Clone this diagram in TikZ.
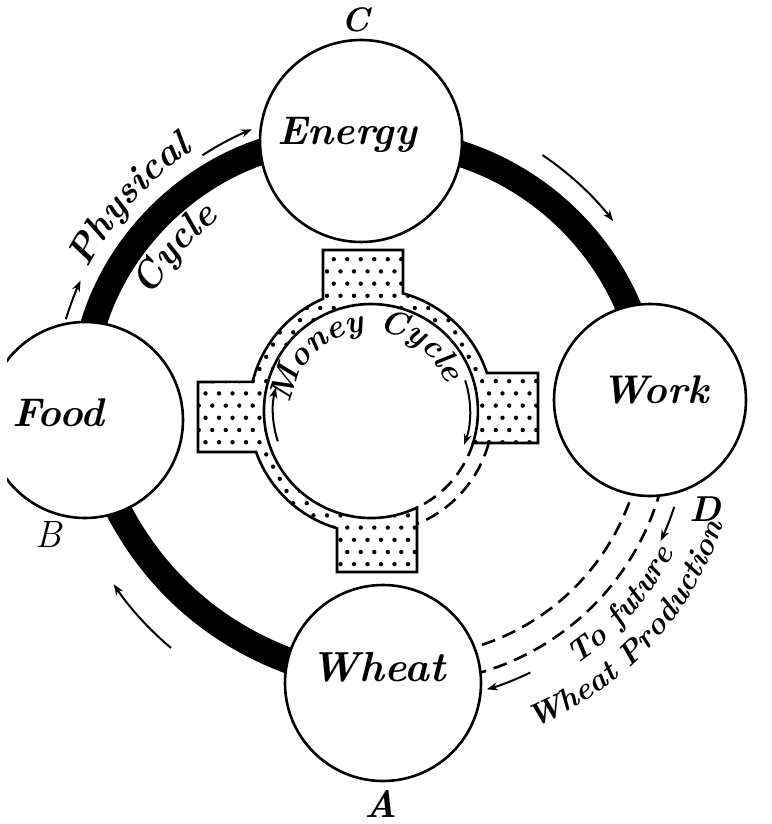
\documentclass[tikz,border=0pt]{standalone}
\usetikzlibrary{arrows.meta,decorations.text,backgrounds}
\newcommand\cirfont{\fontsize{40}{44}\selectfont\bfseries\itshape}
\newcommand\physfont{\fontsize{38}{42}\selectfont\bfseries\itshape}
\newcommand\monfont{\fontsize{33}{36}\selectfont\bfseries\itshape}
\newcommand\futfont{\fontsize{31}{34}\selectfont\bfseries\itshape}
\newcommand\moneypath{(473.1,443) -- (538,443) -- (538,373) -- (486.9,373)
  arc[start angle=-18.2, end angle=-74.8, radius=122] -- (403,250) -- (323,250) -- (323,298.8)
  arc[start angle=-113.2, end angle=-166.2, radius=122] -- (198,382) -- (198,452) -- (256.1,452)
  arc[start angle=160.4, end angle=106.2, radius=122] -- (337,572) -- (417,572) -- (417,507.6)
  arc[start angle=64.5, end angle=377.4, radius=107] -- cycle}
\begin{document}
\begin{tikzpicture}[x=1pt,y=-1pt,
  bigcirc/.style={circle,draw,line width=2.6pt,fill=white,inner sep=0pt},
  band/.style={line width=26pt,line cap=butt},
  dashline/.style={line width=2.6pt,dash pattern=on 14pt off 8pt},
  ringline/.style={line width=2.6pt,line join=miter},
  arr/.style={line width=2pt,-{Stealth[length=11pt,width=8pt]}},
  cirlbl/.style={font=\cirfont,inner sep=0pt},
  letter/.style={inner sep=0pt}]
\useasboundingbox (0,0) rectangle (771,824);

% the four stations
\node[bigcirc,minimum size=202pt] (energy) at (361,141) {};
\node[bigcirc,minimum size=192pt] (work) at (650,400) {};
\node[bigcirc,minimum size=196pt] (wheat) at (383,683) {};
\begin{scope}
  \clip (7,0) rectangle (771,824);
  \node[bigcirc,minimum size=196pt] (food) at (85,420) {};
  \node[cirlbl] (foodtxt) at (58,413) {Food};
\end{scope}
\node[cirlbl] (energytxt) at (347,135) {Energy};
\node[cirlbl] (worktxt) at (655,390) {Work};
\node[cirlbl,font=\fontsize{42}{46}\selectfont\bfseries\itshape] (wheattxt) at (378,667) {Wheat};

% physical cycle band and dashed return path (behind the circles)
\begin{pgfonlayer}{background}
  \fill[white] (0,0) rectangle (771,824);
  \draw[band] (food.center) to[bend left=52] (energy.center);
  \draw[band] (energy.center) to[bend left=45] (work.center);
  \draw[band] (wheat.center) to[bend left=35] (food.center);
  \begin{scope}[shift={(407,420)}]
    \draw[dashline] (15:237) arc[start angle=15, end angle=76, radius=237];
    \draw[dashline] (15:263) arc[start angle=15, end angle=76, radius=263];
  \end{scope}
\end{pgfonlayer}

% arrows and text along the physical cycle
\begin{scope}[shift={(369,412)}]
  \draw[arr] (304:310) arc[start angle=304, end angle=322, radius=310];
  \draw[arr] (130:308) arc[start angle=130, end angle=146, radius=308];
  \draw[arr] (237:306) arc[start angle=237, end angle=247.5, radius=306];
  \draw[arr] (197:317) arc[start angle=197, end angle=204.5, radius=317];
  \path[decorate,decoration={text along path,text align=center,text={|\physfont|Physical}}]
    (190:315) arc[start angle=190, end angle=253, radius=315];
  \path[decorate,decoration={text along path,text align=center,text={|\physfont|Cycle}}]
    (190:245) arc[start angle=190, end angle=250, radius=245];
\end{scope}

% return to future wheat production
\begin{scope}[shift={(407,420)}]
  \draw[arr] (18:281) arc[start angle=18, end angle=25.5, radius=281];
  \draw[arr] (64:281) arc[start angle=64, end angle=73.5, radius=281];
  \path[decorate,decoration={text along path,text align=center,text={|\futfont|To future}}]
    (70:298) arc[start angle=70, end angle=12, radius=298];
  \path[decorate,decoration={text along path,text align=center,text={|\futfont|Wheat Production}}]
    (78:333) arc[start angle=78, end angle=8, radius=333];
\end{scope}

% money cycle ring
\begin{scope}
  \clip \moneypath;
  \foreach \j in {0,...,27} {
    \foreach \i in {0,...,27} {
      \fill ({192+13.5*\i+6.75*mod(\j,2)},{247+12.2*\j}) circle[radius=2.2];
    }
  }
\end{scope}
\draw[ringline] \moneypath;
\begin{scope}[shift={(371,411)}]
  \draw[dashline] (17.4:107) arc[start angle=17.4, end angle=64.5, radius=107];
  \draw[dashline] (15.2:122) arc[start angle=15.2, end angle=67.9, radius=122];
  \draw[arr] (162:98) arc[start angle=162, end angle=194, radius=98];
  \draw[arr] (342:99) arc[start angle=342, end angle=380, radius=99];
  \path[decorate,decoration={text along path,text align=center,text={|\monfont|Money Cycle}}]
    (180:80) arc[start angle=180, end angle=345, radius=80];
\end{scope}

% point letters
\node[letter,font=\fontsize{34}{36}\selectfont\bfseries\itshape] (lc) at (356,20) {C};
\node[letter,font=\fontsize{38}{40}\selectfont\itshape] (lb) at (49,535) {B};
\node[letter,font=\fontsize{38}{40}\selectfont\bfseries\itshape] (la) at (381,804) {A};
\node[letter,font=\fontsize{36}{38}\selectfont\bfseries\itshape] (ld) at (705,509) {D};
\end{tikzpicture}
\end{document}
